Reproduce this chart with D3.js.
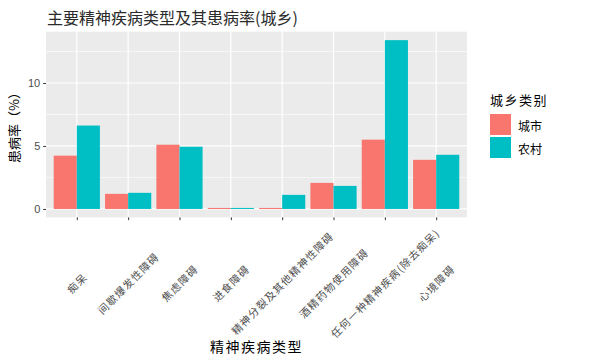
<!DOCTYPE html>
<html>
<head>
<meta charset="utf-8">
<script src="https://cdn.jsdelivr.net/npm/d3@7"></script>
<style>
  body { margin: 0; background: #fff; }
  svg { display: block; font-family: "Noto Sans CJK SC", "DejaVu Sans", sans-serif; }
</style>
</head>
<body>
<div id="chart"></div>
<script>
// disease categories, in plot order
const categories = ["痴呆", "间歇爆发性障碍", "焦虑障碍", "进食障碍", "精神分裂及其他精神性障碍", "酒精药物使用障碍", "任何一种精神疾病(除去痴呆)", "心境障碍"]
const groups = ["城市", "农村"]
const cityValues = [4.23, 1.2, 5.1, 0.08, 0.08, 2.07, 5.5, 3.9]
const ruralValues = [6.62, 1.28, 4.94, 0.08, 1.12, 1.83, 13.4, 4.3]
const yTicks = [0, 5, 10]
const yMinor = [2.5, 7.5, 12.5]
const colors = ["#F8766D", "#00BFC4"]

const W = 600, H = 363
const panel = { left: 46, right: 467, top: 31.7, bottom: 217.4 }

const svg = d3.select("#chart").append("svg").attr("width", W).attr("height", H)

const x = d3.scalePoint().domain(categories).range([panel.left, panel.right]).padding(0.6)
const yMax = d3.max(ruralValues.concat(cityValues))
const y = d3.scaleLinear().domain([-yMax * 0.05, yMax * 1.05]).range([panel.bottom, panel.top])

// panel background
svg.append("rect")
    .attr("x", panel.left).attr("y", panel.top)
    .attr("width", panel.right - panel.left).attr("height", panel.bottom - panel.top)
    .attr("fill", "#EBEBEB")

const grid = svg.append("g")
grid.selectAll("line.minor").data(yMinor).enter().append("line")
    .attr("x1", panel.left).attr("x2", panel.right)
    .attr("y1", d => y(d)).attr("y2", d => y(d))
    .attr("stroke", "#fff").attr("stroke-width", 0.6)
grid.selectAll("line.majy").data(yTicks).enter().append("line")
    .attr("x1", panel.left).attr("x2", panel.right)
    .attr("y1", d => y(d)).attr("y2", d => y(d))
    .attr("stroke", "#fff").attr("stroke-width", 1.2)
grid.selectAll("line.majx").data(categories).enter().append("line")
    .attr("y1", panel.top).attr("y2", panel.bottom)
    .attr("x1", d => x(d)).attr("x2", d => x(d))
    .attr("stroke", "#fff").attr("stroke-width", 1.2)

// bars, dodged
const bw = x.step() * 0.45
const barData = categories.flatMap((c, i) => [
    { c, g: 0, v: cityValues[i] },
    { c, g: 1, v: ruralValues[i] }
])
svg.append("g").selectAll("rect").data(barData).enter().append("rect")
    .attr("x", d => x(d.c) - bw + d.g * bw)
    .attr("width", bw)
    .attr("y", d => y(d.v))
    .attr("height", d => y(0) - y(d.v))
    .attr("fill", d => colors[d.g])

// y axis
const yAxis = svg.append("g").attr("transform", `translate(${panel.left},0)`)
    .call(d3.axisLeft(y).tickValues(yTicks).tickSize(2.75).tickPadding(3))
yAxis.select(".domain").remove()
yAxis.selectAll("line").attr("stroke", "#333")
yAxis.selectAll("text").attr("fill", "#4D4D4D").style("font-size", "11px").style("font-family", "Liberation Sans, Arial, sans-serif")

// x axis
const xAxis = svg.append("g").attr("transform", `translate(0,${panel.bottom})`)
    .call(d3.axisBottom(x).tickSize(2.75).tickFormat(""))
xAxis.select(".domain").remove()
xAxis.selectAll("line").attr("stroke", "#333")

svg.append("g").selectAll("text").data(categories).enter().append("text")
    .attr("transform", d => `translate(${x(d)},283) rotate(-45)`)
    .attr("text-anchor", "middle")
    .attr("dominant-baseline", "central")
    .attr("fill", "#4D4D4D")
    .style("font-size", "10.5px")
    .style("letter-spacing", "1.1px")
    .text(d => d)

// titles
svg.append("text")
    .attr("x", panel.left + 1).attr("y", 24)
    .attr("fill", "#2b2b2b")
    .style("font-size", "16px")
    .text("主要精神疾病类型及其患病率(城乡)")

svg.append("text")
    .attr("x", (panel.left + panel.right) / 2).attr("y", 352)
    .attr("text-anchor", "middle")
    .style("font-size", "14px")
    .style("letter-spacing", "1.5px")
    .text("精神疾病类型")

svg.append("text")
    .attr("transform", `translate(19,${(panel.top + panel.bottom) / 2}) rotate(-90)`)
    .attr("text-anchor", "middle")
    .style("font-size", "13px")
    .text("患病率（%）")

// legend
const legend = svg.append("g").attr("transform", "translate(490,0)")
legend.append("text").attr("x", 0).attr("y", 105)
    .style("font-size", "13px").style("letter-spacing", "1.5px")
    .text("城乡类别")
legend.selectAll("rect").data(groups).enter().append("rect")
    .attr("x", 0).attr("y", (d, i) => 114 + i * 23)
    .attr("width", 21).attr("height", 21)
    .attr("fill", (d, i) => colors[i])
legend.selectAll("text.lab").data(groups).enter().append("text")
    .attr("x", 28).attr("y", (d, i) => 125 + i * 23)
    .attr("dominant-baseline", "central")
    .style("font-size", "12px")
    .text(d => d)
</script>
</body>
</html>
